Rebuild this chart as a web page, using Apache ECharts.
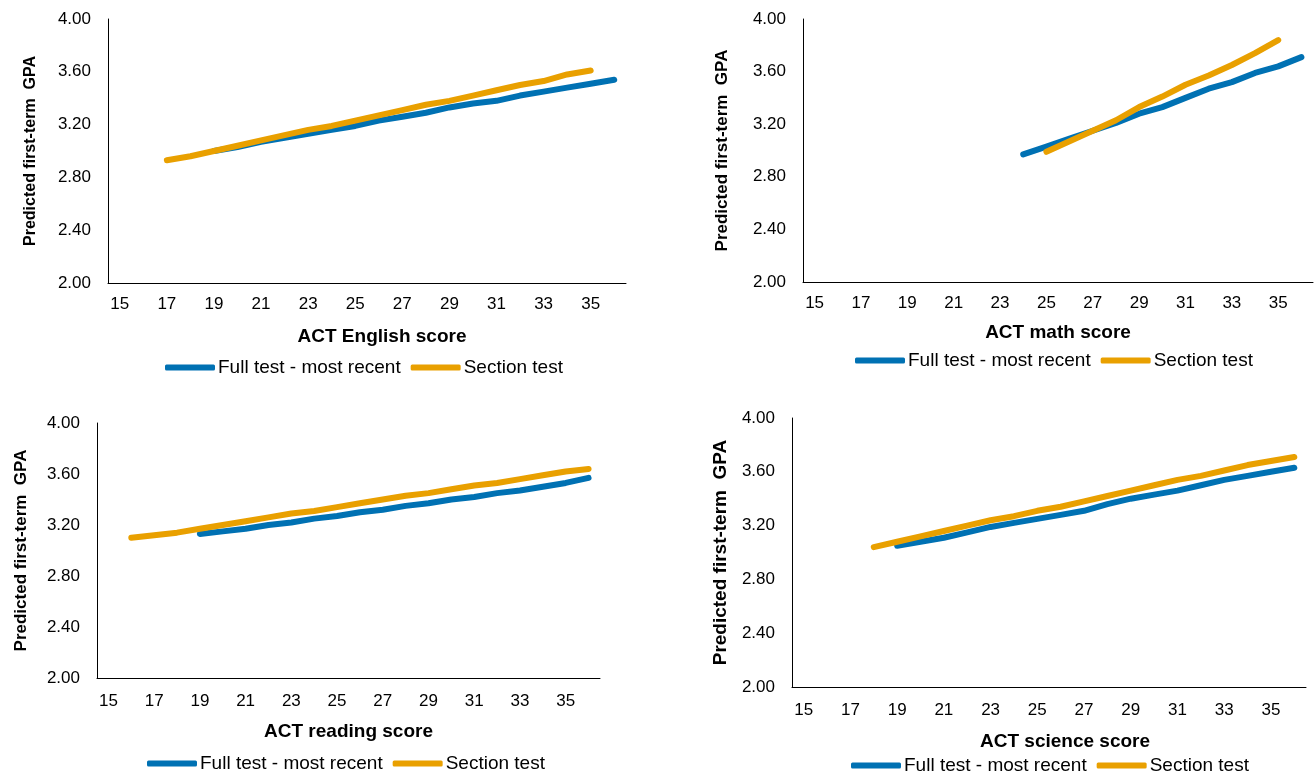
<!DOCTYPE html>
<html>
<head>
<meta charset="utf-8">
<script src="https://cdn.jsdelivr.net/npm/echarts@6/dist/echarts.min.js"></script>
<style>
  html, body { margin: 0; padding: 0; background: #fff; }
  #chart { width: 1315px; height: 777px; }
</style>
</head>
<body>
<div id="chart"></div>
<script>
  // ACT scores 15..36
  var scores = ['15', '16', '17', '18', '19', '20', '21', '22', '23', '24', '25',
    '26', '27', '28', '29', '30', '31', '32', '33', '34', '35', '36']
  var seriesNames = ['Full test - most recent', 'Section test']

  // English
  var englishFullStart = 19
  var englishFull = [3.00, 3.03, 3.07, 3.10, 3.13, 3.16, 3.19, 3.23, 3.26, 3.29, 3.33, 3.36, 3.38, 3.42, 3.45, 3.48, 3.51, 3.54]
  var englishSectionStart = 17
  var englishSection = [2.93, 2.96, 3.00, 3.04, 3.08, 3.12, 3.16, 3.19, 3.23, 3.27, 3.31, 3.35, 3.38, 3.42, 3.46, 3.50, 3.53, 3.58, 3.61]

  // Math
  var mathFullStart = 24
  var mathFull = [2.97, 3.03, 3.09, 3.15, 3.21, 3.28, 3.33, 3.40, 3.47, 3.52, 3.59, 3.64, 3.71]
  var mathSectionStart = 25
  var mathSection = [2.99, 3.07, 3.15, 3.23, 3.33, 3.41, 3.50, 3.57, 3.65, 3.74, 3.84]

  // Reading
  var readingFullStart = 19
  var readingFull = [3.13, 3.15, 3.17, 3.20, 3.22, 3.25, 3.27, 3.30, 3.32, 3.35, 3.37, 3.40, 3.42, 3.45, 3.47, 3.50, 3.53, 3.57]
  var readingSectionStart = 16
  var readingSection = [3.10, 3.12, 3.14, 3.17, 3.20, 3.23, 3.26, 3.29, 3.31, 3.34, 3.37, 3.40, 3.43, 3.45, 3.48, 3.51, 3.53, 3.56, 3.59, 3.62, 3.64]

  // Science
  var scienceFullStart = 19
  var scienceFull = [3.05, 3.08, 3.11, 3.15, 3.19, 3.22, 3.25, 3.28, 3.31, 3.36, 3.40, 3.43, 3.46, 3.50, 3.54, 3.57, 3.60, 3.63]
  var scienceSectionStart = 18
  var scienceSection = [3.04, 3.08, 3.12, 3.16, 3.20, 3.24, 3.27, 3.31, 3.34, 3.38, 3.42, 3.46, 3.50, 3.54, 3.57, 3.61, 3.65, 3.68, 3.71]

  var blue = '#0071B3'
  var orange = '#E9A000'
  var font = 'Liberation Sans, Arial, sans-serif'

  function pad (start, values) {
    var out = []
    for (var i = 0; i < scores.length; i++) {
      var k = Number(scores[i]) - start
      out.push(k >= 0 && k < values.length ? values[k] : null)
    }
    return out
  }

  var panels = [
    {name: 'ACT English score', grid: {left: 108, top: 19, width: 518, height: 264},
      yGap: 69, yFont: 16, xGap: 44, xShift: 30, xMargin: 13, legendLeft: 160, legendTop: 353,
      full: pad(englishFullStart, englishFull), section: pad(englishSectionStart, englishSection)},
    {name: 'ACT math score', grid: {left: 803, top: 19, width: 510, height: 263},
      yGap: 72, yFont: 17, xGap: 41, xShift: 0, xMargin: 13, legendLeft: 850, legendTop: 346,
      full: pad(mathFullStart, mathFull), section: pad(mathSectionStart, mathSection)},
    {name: 'ACT reading score', grid: {left: 97, top: 423, width: 503, height: 255},
      yGap: 67, yFont: 17, xGap: 44, xShift: 0, xMargin: 15, legendLeft: 142, legendTop: 749,
      full: pad(readingFullStart, readingFull), section: pad(readingSectionStart, readingSection)},
    {name: 'ACT science score', grid: {left: 792, top: 418, width: 514, height: 269},
      yGap: 62, yFont: 19, xGap: 45, xShift: 32, xMargin: 15, legendLeft: 846, legendTop: 751,
      full: pad(scienceFullStart, scienceFull), section: pad(scienceSectionStart, scienceSection)}
  ]

  var option = {
    animation: false,
    backgroundColor: '#fff',
    textStyle: {fontFamily: font},
    grid: [], xAxis: [], yAxis: [], legend: [], series: []
  }

  panels.forEach(function (p, i) {
    option.grid.push(p.grid)
    option.xAxis.push({
      type: 'category',
      gridIndex: i,
      data: scores,
      boundaryGap: true,
      name: p.name,
      nameLocation: 'middle',
      nameGap: p.xGap,
      nameTextStyle: {fontSize: 19, fontWeight: 'bold', color: '#000', fontFamily: font, padding: [0, 0, 0, p.xShift]},
      axisLine: {lineStyle: {color: '#000', width: 1}},
      axisTick: {show: false},
      axisLabel: {interval: 1, fontSize: 17, color: '#000', margin: p.xMargin, fontFamily: font}
    })
    option.yAxis.push({
      type: 'value',
      gridIndex: i,
      min: 2,
      max: 4,
      interval: 0.4,
      name: 'Predicted first-term  GPA',
      nameLocation: 'middle',
      nameGap: p.yGap,
      nameTextStyle: {fontSize: p.yFont, fontWeight: 'bold', color: '#000', fontFamily: font},
      axisLine: {show: true, lineStyle: {color: '#000', width: 1}},
      axisTick: {show: false},
      splitLine: {show: false},
      axisLabel: {fontSize: 17, color: '#000', margin: 17, fontFamily: font,
        formatter: function (v) { return v.toFixed(2) }}
    })
    option.legend.push({
      left: p.legendLeft,
      top: p.legendTop,
      itemWidth: 50,
      itemHeight: 6,
      itemGap: 10,
      icon: 'roundRect',
      data: [
        {name: seriesNames[0] + '#' + i, itemStyle: {color: blue}},
        {name: seriesNames[1] + '#' + i, itemStyle: {color: orange}}
      ],
      formatter: function (n) { return n.split('#')[0] },
      textStyle: {fontSize: 19, color: '#000', fontFamily: font, padding: [0, 0, 0, -2]}
    })
    option.series.push({
      name: seriesNames[0] + '#' + i, type: 'line', xAxisIndex: i, yAxisIndex: i,
      data: p.full, showSymbol: false, symbol: 'none',
      lineStyle: {color: blue, width: 6, cap: 'round'}, itemStyle: {color: blue}
    })
    option.series.push({
      name: seriesNames[1] + '#' + i, type: 'line', xAxisIndex: i, yAxisIndex: i,
      data: p.section, showSymbol: false, symbol: 'none',
      lineStyle: {color: orange, width: 6, cap: 'round'}, itemStyle: {color: orange}
    })
  })

  var chart = echarts.init(document.getElementById('chart'))
  chart.setOption(option)
</script>
</body>
</html>
